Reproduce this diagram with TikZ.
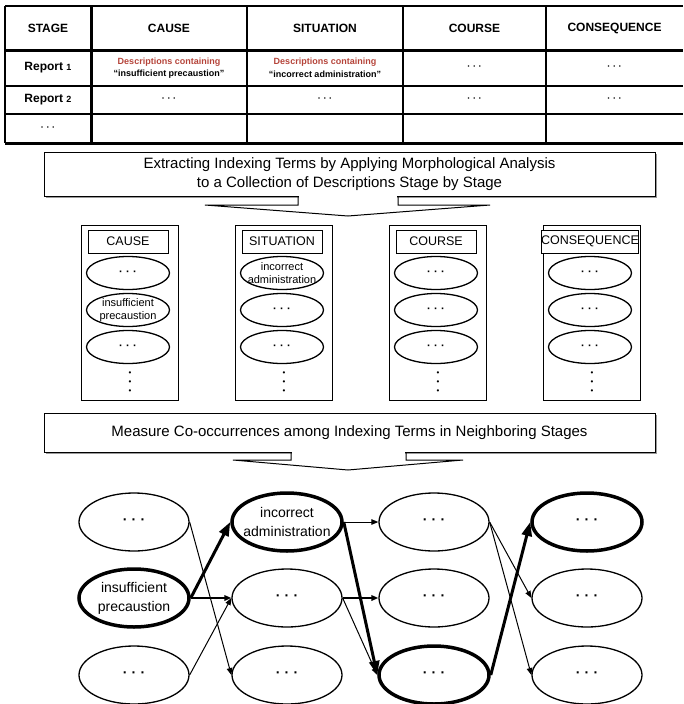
\documentclass[tikz,border=0pt]{standalone}
\usepackage{fontspec}
\setmainfont{Liberation Sans}
\usepackage{tikz}
\usetikzlibrary{arrows.meta,calc,positioning,shapes.geometric,shadows}
\definecolor{descred}{HTML}{B5443A}
\definecolor{shadegray}{HTML}{9A9A9A}
\newcommand{\tdots}{{\bfseries·\hspace{0.3em}·\hspace{0.3em}·}}
\newcommand{\fsz}[2]{\fontsize{#1}{#2}\selectfont}

\begin{document}
\begin{tikzpicture}[x=1pt,y=-1pt,>={Triangle[length=7pt,width=5.5pt]},
  cell/.style={font=\bfseries\fsz{12}{14},align=center,inner sep=0pt},
  desc/.style={font=\bfseries\fsz{9}{12.5},align=center,inner sep=0pt},
  stagebox/.style={draw,line width=1pt,minimum width=97pt,minimum height=175pt,inner sep=0pt},
  titlebox/.style={draw,line width=1pt,fill=white,minimum width=80pt,minimum height=23pt,inner sep=0pt,font=\fsz{12.5}{14}},
  term/.style={ellipse,draw,line width=1.3pt,fill=white,minimum width=83pt,minimum height=33pt,inner xsep=-6pt,inner ysep=-1pt,align=center,font=\fsz{11}{13}},
  vdot/.style={font=\fsz{8}{8},inner sep=0pt},
  note/.style={draw,line width=1pt,fill=white,minimum width=611pt,inner sep=0pt,align=center,font=\fsz{15}{19},
    drop shadow={shadow xshift=1.5pt,shadow yshift=-1.5pt,fill=shadegray,opacity=1}},
  cooc/.style={ellipse,draw,line width=1.3pt,minimum width=110pt,minimum height=58pt,inner xsep=-6pt,inner ysep=0pt,align=center,font=\fsz{14}{19}},
  hit/.style={line width=3.5pt},
  link/.style={->,line width=1pt},
  mid/.style={->,line width=2pt},
  strong/.style={-{Triangle[length=14pt,width=10pt]},line width=3pt}]

\useasboundingbox (0,0) rectangle (683,704);

\draw[line width=2pt] (5,6) -- (683,6);
\draw[line width=3pt] (5,50) -- (683,50);
\draw[line width=1.2pt] (5,86) -- (683,86) (5,114) -- (683,114);
\draw[line width=3pt] (5,143) -- (683,143);
\draw[line width=2.5pt] (5,6) -- (5,143);
\draw[line width=3pt] (91,6) -- (91,143);
\foreach \x in {247,403,546} \draw[line width=1.2pt] (\x,6) -- (\x,143);

\foreach \x/\t/\n in {48/STAGE/stage,169/CAUSE/cause,325/SITUATION/situation,474.5/COURSE/course,614.5/CONSEQUENCE/consequence}
  \node[cell] (h-\n) at (\x,28) {\t};
\node[cell] (r1) at (48,68) {Report {\fsz{9}{10}1}};
\node[cell] (r2) at (48,100) {Report {\fsz{9}{10}2}};
\node[cell] (r3) at (48,128.5) {\fsz{9}{10}\tdots};
\node[desc] (r1-cause) at (169,68) {\textcolor{descred}{Descriptions containing}\\``insufficient precaustion''};
\node[desc] (r1-situation) at (325,68) {\textcolor{descred}{Descriptions containing}\\``incorrect administration''};
\foreach \x/\n in {474.5/course,614.5/consequence} \node[desc] (r1-\n) at (\x,68) {\tdots};
\foreach \x/\n in {169/cause,325/situation,474.5/course,614.5/consequence} \node[desc] (r2-\n) at (\x,100) {\tdots};

\node[note,minimum height=44pt] (extract) at (349.5,174) {Extracting Indexing Terms by Applying Morphological Analysis\\to a Collection of Descriptions Stage by Stage};
\fill[white] (299,194) rectangle (397,205);
\draw[line width=1pt] (298,196) -- (298,205) -- (205,205) -- (348,216) -- (490,205) -- (398,205) -- (398,196);

\foreach \x/\n/\t/\a/\b/\c in {130/ca/CAUSE/\tdots/{insufficient\\precaustion}/\tdots,
    284/si/SITUATION/{incorrect\\administration}/\tdots/\tdots,
    438/co/COURSE/\tdots/\tdots/\tdots,
    592/cq/CONSEQUENCE/\tdots/\tdots/\tdots}{
  \node[stagebox] (\n) at (\x,312.5) {};
  \node[titlebox] (\n-title) at (\x-2,241.5) {\t};
  \node[term] (\n-t1) at (\x-2,273) {\a};
  \node[term] (\n-t2) at (\x-2,310) {\b};
  \node[term] (\n-t3) at (\x-2,347) {\c};
  \foreach \k in {0,1,2}
    \node[vdot] (\n-more\k) at (\x,374+9*\k) {\textbullet};
}

\node[note,minimum height=39pt] (measure) at (349.5,432.5) {Measure Co-occurrences among Indexing Terms in Neighboring Stages};
\fill[white] (292,450) rectangle (405,460);
\draw[line width=1pt] (291,452) -- (291,460) -- (233,460) -- (348,470) -- (463,460) -- (406,460) -- (406,452);

\node[cooc] (ca-n1) at (134,522) {\tdots};
\node[cooc,hit] (ca-n2) at (134,598) {insufficient\\precaustion};
\node[cooc] (ca-n3) at (134,675) {\tdots};
\node[cooc,hit] (si-n1) at (287,522) {incorrect\\administration};
\node[cooc] (si-n2) at (287,598) {\tdots};
\node[cooc] (si-n3) at (287,675) {\tdots};
\node[cooc] (co-n1) at (434,522) {\tdots};
\node[cooc] (co-n2) at (434,598) {\tdots};
\node[cooc,hit] (co-n3) at (434,675) {\tdots};
\node[cooc,hit] (cq-n1) at (587,522) {\tdots};
\node[cooc] (cq-n2) at (587,598) {\tdots};
\node[cooc] (cq-n3) at (587,675) {\tdots};

\draw[link] (ca-n1.east) -- (si-n3.west);
\draw[strong] (ca-n2.east) -- (si-n1.west);
\draw[mid] (ca-n2.east) -- (si-n2.west);
\draw[link] (ca-n3.east) -- (si-n2.west);
\draw[link] (si-n1.east) -- (co-n1.west);
\draw[strong] (si-n1.east) -- (co-n3.west);
\draw[mid] (si-n2.east) -- (co-n2.west);
\draw[link] (si-n2.east) -- (co-n3.west);
\draw[link] (co-n1.east) -- (cq-n2.west);
\draw[link] (co-n1.east) -- (cq-n3.west);
\draw[strong] (co-n3.east) -- (cq-n1.west);
\end{tikzpicture}
\end{document}
